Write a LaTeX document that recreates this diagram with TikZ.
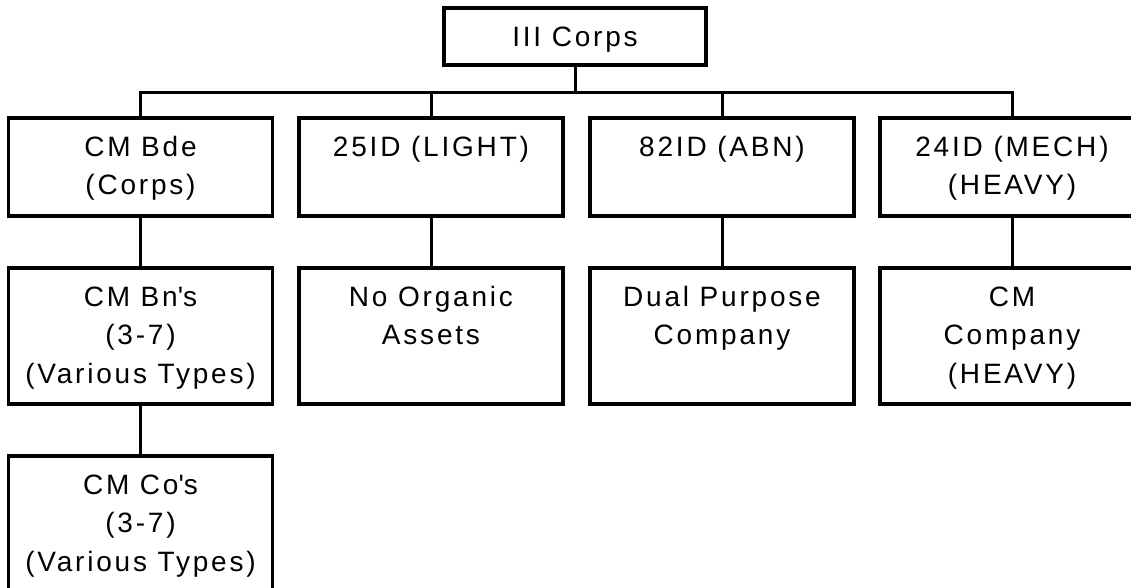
\documentclass[tikz,border=0pt]{standalone}
\usepackage{fontspec}
\setmainfont{Liberation Sans}[LetterSpace=10]
\begin{document}
\begin{tikzpicture}[x=1pt,y=-1pt,
  box/.style={draw=black,line width=3.5pt,rectangle,inner sep=0pt,minimum width=264pt},
  r1/.style={box,minimum width=262pt,minimum height=57pt},
  r2/.style={box,minimum height=98pt},
  r3/.style={box,minimum height=136pt},
  txt/.style={anchor=north,inner sep=0pt,align=center,font=\fontsize{28}{38.5}\selectfont},
  conn/.style={draw=black,line width=3pt}]
\fill[white] (0,0) rectangle (1131,588);
\clip (0,0) rectangle (1131,588);
% boxes
\node[r1] (top) at (575,36.5) {};
\node[r2] (bde) at (140.5,167) {};
\node[r2] (l25) at (431,167) {};
\node[r2] (a82) at (722,167) {};
\node[r2] (m24) at (1012,167) {};
\node[r3] (bns) at (140.5,336) {};
\node[r3] (org) at (431,336) {};
\node[r3] (dual) at (722,336) {};
\node[r3] (cmco) at (1012,336) {};
\node[r3] (cos) at (140.5,524) {};
% texts
\newcommand{\fl}{\rule{0pt}{21pt}}
\node[txt] (ttop) at ([yshift=-19pt]top.north) {\fl III Corps};
\node[txt] (tbde) at ([yshift=-19pt]bde.north) {\fl CM Bde\\(Corps)};
\node[txt] (tl25) at ([yshift=-19pt]l25.north) {\fl 25ID (LIGHT)};
\node[txt] (ta82) at ([yshift=-19pt]a82.north) {\fl 82ID (ABN)};
\node[txt] (tm24) at ([yshift=-19pt]m24.north) {\fl 24ID (MECH)\\(HEAVY)};
\node[txt] (tbns) at ([yshift=-19pt]bns.north) {\fl CM Bn\textquotesingle s\\(3-7)\\(Various Types)};
\node[txt] (torg) at ([yshift=-19pt]org.north) {\fl No Organic\\Assets};
\node[txt] (tdual) at ([yshift=-19pt]dual.north) {\fl Dual Purpose\\Company};
\node[txt] (tcmco) at ([yshift=-19pt]cmco.north) {\fl CM\\Company\\(HEAVY)};
\node[txt] (tcos) at ([yshift=-19pt]cos.north) {\fl CM Co\textquotesingle s\\(3-7)\\(Various Types)};
% connectors
\coordinate (bus) at (575,93);
\draw[conn] (top.south) -- (top.south |- bus);
\draw[conn] (bde.north) -- (bde.north |- bus) -- (m24.north |- bus) -- (m24.north);
\draw[conn] (l25.north) -- (l25.north |- bus);
\draw[conn] (a82.north) -- (a82.north |- bus);
\draw[conn] (bde.south) -- (bns.north);
\draw[conn] (l25.south) -- (org.north);
\draw[conn] (a82.south) -- (dual.north);
\draw[conn] (m24.south) -- (cmco.north);
\draw[conn] (bns.south) -- (cos.north);
\end{tikzpicture}
\end{document}
